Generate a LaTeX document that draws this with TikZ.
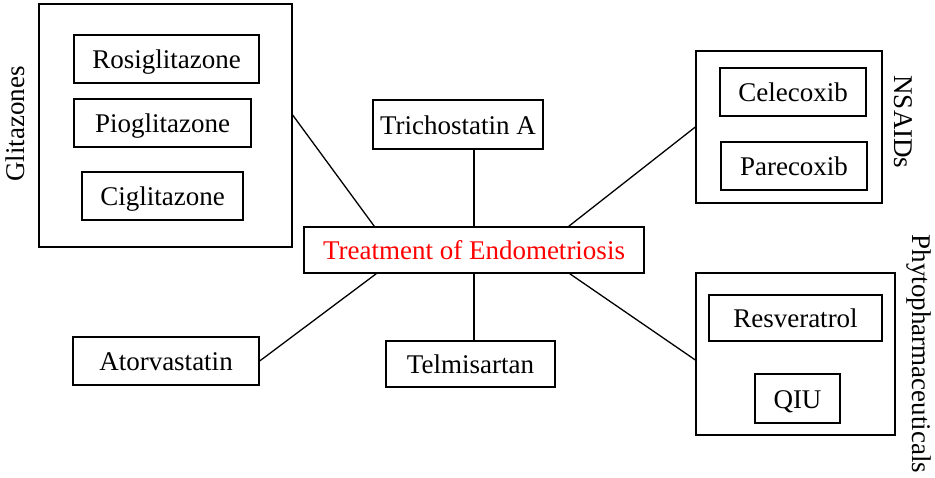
\documentclass[tikz,border=0pt]{standalone}
\usepackage{fontspec}
\setmainfont{Liberation Serif}
\begin{document}
\begin{tikzpicture}[x=1pt,y=-1pt,
  box/.style={draw, line width=1.3pt, inner sep=0pt, text height=22pt, text depth=3pt, font=\fontsize{27}{30}\selectfont},
  link/.style={line width=1.3pt},
  side/.style={font=\fontsize{27}{30}\selectfont, inner sep=0pt}]
\useasboundingbox (0,0) rectangle (935,477);
% Glitazones
\node[box, minimum width=253pt, minimum height=243pt] (glit) at (165.5,125.5) {};
\node[box, minimum width=185pt, minimum height=48pt] (rosi) at (166.5,59) {Rosiglitazone};
\node[box, minimum width=177pt, minimum height=48pt] (pio) at (162.5,123) {Pioglitazone};
\node[box, minimum width=161pt, minimum height=48pt] (cig) at (162.5,196) {Ciglitazone};
\node[side, rotate=90] (glitlab) at (15,124) {Glitazones};
% centre
\node[box, minimum width=170pt, minimum height=49pt] (tricho) at (458,124.5) {Trichostatin A};
\node[box, minimum width=340pt, minimum height=46pt, text=red] (treat) at (474,250) {Treatment of Endometriosis};
\node[box, minimum width=186pt, minimum height=48pt] (ator) at (166,361) {Atorvastatin};
\node[box, minimum width=169pt, minimum height=46pt] (telm) at (470.5,364) {Telmisartan};
% NSAIDs
\node[box, minimum width=186pt, minimum height=152pt] (nsaid) at (789,127) {};
\node[box, minimum width=146pt, minimum height=48pt] (cele) at (793,92) {Celecoxib};
\node[box, minimum width=146pt, minimum height=48pt] (pare) at (794,166) {Parecoxib};
\node[side, rotate=-90] (nsaidlab) at (903,122) {NSAIDs};
% Phytopharmaceuticals
\node[box, minimum width=199pt, minimum height=162pt] (phyto) at (795.5,354) {};
\node[box, minimum width=173pt, minimum height=46pt] (resv) at (795.5,318) {Resveratrol};
\node[box, minimum width=85pt, minimum height=49pt] (qiu) at (797.5,398.5) {QIU};
\node[side, rotate=-90] (phytolab) at (919,354) {Phytopharmaceuticals};
% connectors
\draw[link] ([yshift=10.5pt]glit.east) -- ([xshift=71pt]treat.north west);
\draw[link] (treat.north) -- (treat.north |- tricho.south);
\draw[link] (nsaid.west) -- ([xshift=-76pt]treat.north east);
\draw[link] (ator.east) -- ([xshift=73pt]treat.south west);
\draw[link] (treat.south) -- (treat.south |- telm.north);
\draw[link] ([yshift=-6pt]phyto.west) -- ([xshift=-75pt]treat.south east);
\end{tikzpicture}
\end{document}
